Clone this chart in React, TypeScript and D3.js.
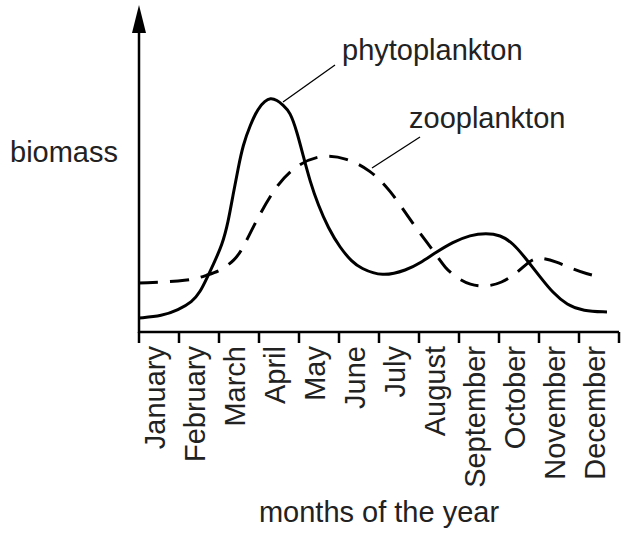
import { useEffect, useRef } from "react"
import * as d3 from "d3"

// month labels along the x axis
const months = [
  "January", "February", "March", "April", "May", "June",
  "July", "August", "September", "October", "November", "December",
]

// phytoplankton biomass (month position, relative biomass)
const phytoMonth = [0, 0.58, 0.98, 1.33, 1.53, 1.7, 1.85, 2.08, 2.23, 2.35, 2.48, 2.6, 2.78, 2.98, 3.15, 3.28, 3.45, 3.6, 3.78, 3.95, 4.1, 4.28, 4.48, 4.73, 5.03, 5.33, 5.53, 6.08, 6.7, 7.03, 7.4, 7.85, 8.28, 8.68, 9.03, 9.35, 9.7, 10.03, 10.35, 10.7, 11.1, 11.7]
const phytoBiomass = [14, 16, 22, 30, 40, 54, 67, 87, 110, 137, 164, 187, 207, 224, 231, 234, 232, 227, 220, 200, 177, 150, 127, 104, 84, 70, 64, 55, 62, 69, 79, 90, 97, 99, 97, 89, 72, 55, 39, 27, 21, 20]

// zooplankton biomass
const zooMonth = [0, 1.28, 1.7, 2.03, 2.4, 2.6, 2.85, 3.35, 3.85, 4.53, 5.2, 5.78, 6.28, 6.78, 7.19, 7.4, 7.65, 7.95, 8.28, 8.65, 9.07, 9.45, 9.78, 10.03, 10.45, 10.78, 11.2, 11.53]
const zooBiomass = [49, 51, 57, 61, 72, 84, 105, 142, 165, 178, 174, 162, 142, 112, 90, 79, 64, 54, 47, 45, 49, 59, 72, 75, 70, 64, 58, 55]

export default function App() {
  const svgRef = useRef<SVGSVGElement>(null)

  useEffect(() => {
    if (!svgRef.current) return
    const svg = d3.select(svgRef.current)
    svg.selectAll("*").remove()

    const font = "'Liberation Sans', Arial, Helvetica, sans-serif"
    const fontSize = 29
    const x0 = 139
    const y0 = 332

    const x = d3.scaleLinear().domain([0, 12]).range([x0, 619])
    const y = d3.scaleLinear().domain([0, 300]).range([y0, 32])

    // curves
    const line = d3
      .line<[number, number]>()
      .x((d) => x(d[0]))
      .y((d) => y(d[1]))
      .curve(d3.curveBasis)

    const phyto = phytoMonth.map((m, i) => [m, phytoBiomass[i]] as [number, number])
    const zoo = zooMonth.map((m, i) => [m, zooBiomass[i]] as [number, number])

    svg
      .append("path")
      .attr("d", line(zoo))
      .attr("fill", "none")
      .attr("stroke", "#000")
      .attr("stroke-width", 3)
      .attr("stroke-dasharray", "19 12")

    svg
      .append("path")
      .attr("d", line(phyto))
      .attr("fill", "none")
      .attr("stroke", "#000")
      .attr("stroke-width", 3)

    // x axis with ticks at month boundaries
    svg
      .append("line")
      .attr("x1", x(0))
      .attr("x2", x(12))
      .attr("y1", y0)
      .attr("y2", y0)
      .attr("stroke", "#000")
      .attr("stroke-width", 2.5)

    svg
      .selectAll(".tick")
      .data(d3.range(13))
      .enter()
      .append("line")
      .attr("x1", (d) => x(d))
      .attr("x2", (d) => x(d))
      .attr("y1", y0)
      .attr("y2", y0 + 11)
      .attr("stroke", "#000")
      .attr("stroke-width", 2.5)

    svg
      .selectAll(".month")
      .data(months)
      .enter()
      .append("text")
      .attr("transform", (_, i) => `translate(${x(i) + 26},346) rotate(-90)`)
      .attr("text-anchor", "end")
      .attr("font-family", font)
      .attr("font-size", fontSize)
      .attr("fill", "#222")
      .text((d) => d)

    // y axis with arrow
    svg
      .append("line")
      .attr("x1", x0)
      .attr("x2", x0)
      .attr("y1", y0 + 1)
      .attr("y2", 30)
      .attr("stroke", "#000")
      .attr("stroke-width", 2.5)

    svg
      .append("path")
      .attr("d", `M${x0},5 L${x0 - 7},33 L${x0 + 7},33 Z`)
      .attr("fill", "#000")

    // axis titles
    svg
      .append("text")
      .attr("x", 10)
      .attr("y", 162)
      .attr("font-family", font)
      .attr("font-size", fontSize)
      .attr("fill", "#222")
      .text("biomass")

    svg
      .append("text")
      .attr("x", x(6))
      .attr("y", 522)
      .attr("text-anchor", "middle")
      .attr("font-family", font)
      .attr("font-size", fontSize)
      .attr("fill", "#222")
      .text("months of the year")

    // curve labels with leader lines
    svg
      .append("line")
      .attr("x1", 283)
      .attr("y1", 102)
      .attr("x2", 335)
      .attr("y2", 65)
      .attr("stroke", "#000")
      .attr("stroke-width", 1.3)

    svg
      .append("text")
      .attr("x", 342)
      .attr("y", 60)
      .attr("font-family", font)
      .attr("font-size", fontSize)
      .attr("fill", "#222")
      .text("phytoplankton")

    svg
      .append("line")
      .attr("x1", 372)
      .attr("y1", 168)
      .attr("x2", 420)
      .attr("y2", 137)
      .attr("stroke", "#000")
      .attr("stroke-width", 1.3)

    svg
      .append("text")
      .attr("x", 409)
      .attr("y", 128)
      .attr("font-family", font)
      .attr("font-size", fontSize)
      .attr("fill", "#222")
      .text("zooplankton")
  }, [])

  return (
    <svg
      ref={svgRef}
      width={629}
      height={533}
      style={{ position: "absolute", left: 0, top: 0, background: "#fff" }}
    />
  )
}
